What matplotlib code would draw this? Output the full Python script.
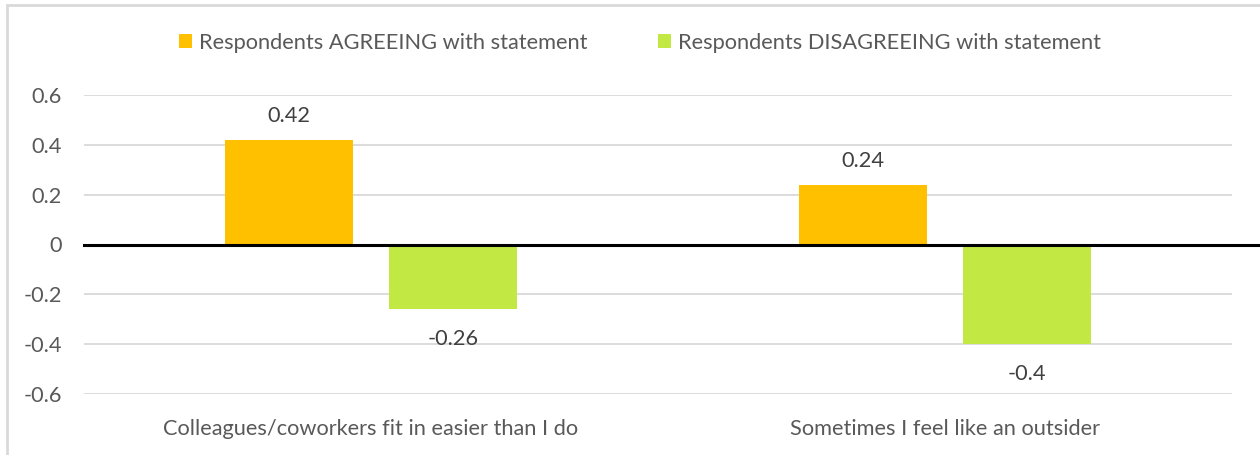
import numpy as np
import matplotlib
matplotlib.use('Agg')
import matplotlib.pyplot as plt
from matplotlib.patches import Rectangle

# Data
categories = ['Colleagues/coworkers fit in easier than I do', 'Sometimes I feel like an outsider']
series_names = ['Respondents AGREEING with statement', 'Respondents DISAGREEING with statement']
agree = [0.42, 0.24]
disagree = [-0.26, -0.4]
yticks = [0.6, 0.4, 0.2, 0, -0.2, -0.4, -0.6]
ytick_labels = ['0.6', '0.4', '0.2', '0', '-0.2', '-0.4', '-0.6']

colors = ['#FFC000', '#C2E844']
text_color = '#595959'
fs = 15.7
plt.rcParams['font.family'] = ['Lato', 'DejaVu Sans']

fig = plt.figure(figsize=(12.6, 4.55), dpi=100)
ax = fig.add_axes([84 / 1260, 61 / 455, (1232 - 84) / 1260, 299 / 455])

x = np.arange(len(categories))
width = 0.224
offset = 0.143

b1 = ax.bar(x - offset, agree, width, color=colors[0], label=series_names[0], zorder=2)
b2 = ax.bar(x + offset, disagree, width, color=colors[1], label=series_names[1], zorder=2)

# value labels above positive bars, below negative ones
for bars, vals in [(b1, agree), (b2, disagree)]:
    for rect, v in zip(bars, vals):
        cx = rect.get_x() + rect.get_width() / 2
        dy = 13 if v >= 0 else -26
        ax.annotate(f'{v:g}', (cx, v), xytext=(0, dy), textcoords='offset points',
                    ha='center', va='baseline', fontsize=fs, color='#404040')

ax.set_xlim(-0.5, 1.5)
ax.set_ylim(-0.6, 0.6)
ax.set_yticks(yticks)
ax.set_yticklabels(ytick_labels)
ax.set_xticks(x)
ax.set_xticklabels(categories)
ax.tick_params(axis='y', length=0, pad=16, labelsize=fs, labelcolor=text_color)
ax.tick_params(axis='x', length=0, pad=18, labelsize=fs, labelcolor=text_color)
ax.yaxis.grid(True, color='#d9d9d9', linewidth=1.3, zorder=0)
ax.set_axisbelow(True)
for s in ax.spines.values():
    s.set_visible(False)

# zero line runs to the right edge of the figure
ax.axhline(0, xmin=0, xmax=(1260 - 84) / (1232 - 84), color='black', linewidth=2.2,
           zorder=3, clip_on=False)

leg = fig.legend(handles=[b1, b2], labels=series_names, loc='center',
                 bbox_to_anchor=(640 / 1260, 1 - 43 / 455), ncol=2, frameon=False,
                 fontsize=fs, handlelength=0.6, handleheight=0.6,
                 handletextpad=0.32, columnspacing=3.2)
for t in leg.get_texts():
    t.set_color(text_color)

# chart border
fig.patches.append(Rectangle((7 / 1260, -0.05), 1.1, 1 - 5 / 455 + 0.05,
                             transform=fig.transFigure, fill=False,
                             edgecolor='#d9d9d9', linewidth=2, figure=fig))

fig.savefig('out.png', dpi=100)
